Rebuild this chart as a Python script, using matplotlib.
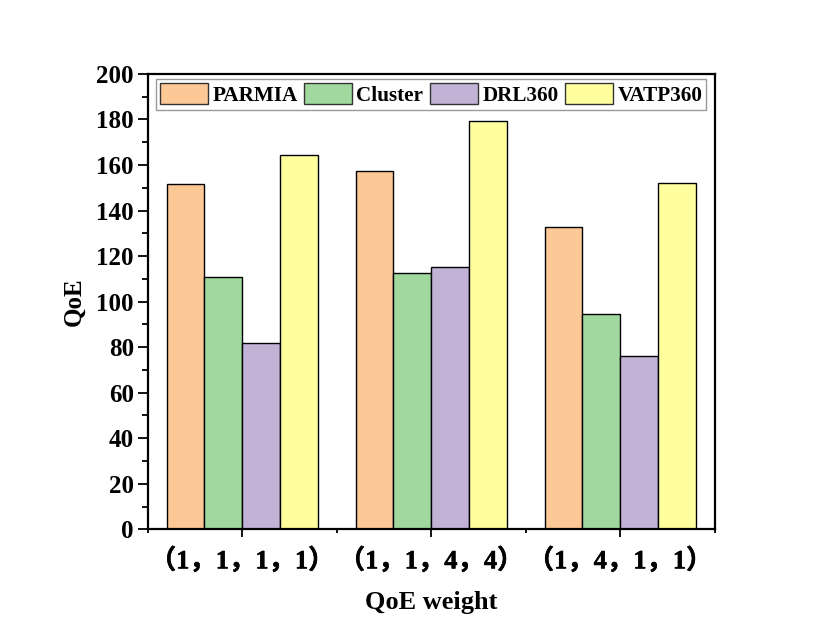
import numpy as np
import matplotlib.pyplot as plt
import matplotlib.patheffects as pe
from matplotlib.ticker import MultipleLocator, FixedLocator

# dados
grupos = ["（1，1，1，1）", "（1，1，4，4）", "（1，4，1，1）"]
metodos = ["PARMIA", "Cluster", "DRL360", "VATP360"]
parmia = [151.6, 157.4, 132.7]
cluster = [111.0, 112.6, 94.5]
drl360 = [81.9, 115.1, 76.2]
vatp360 = [164.6, 179.5, 152.3]
cores = ["#FCC896", "#A0D89E", "#C2B2D6", "#FFFF9E"]

plt.rcParams['font.family'] = ['Liberation Serif', 'Noto Sans CJK SC']
plt.rcParams['font.weight'] = 'bold'

fig = plt.figure(figsize=(8.3, 6.37), dpi=100)
ax = fig.add_axes([0.178, 0.169, 0.683, 0.715])

x = np.arange(1, len(grupos) + 1)
largura = 0.2
series = [parmia, cluster, drl360, vatp360]
for i, (nome, vals) in enumerate(zip(metodos, series)):
    ax.bar(x + (i - 1.5) * largura, vals, largura, color=cores[i],
           edgecolor="#000000", linewidth=1, label=nome, zorder=2)

ax.set_xlim(0.5, 3.5)
ax.set_ylim(0, 200)
ax.yaxis.set_major_locator(MultipleLocator(20))
ax.yaxis.set_minor_locator(MultipleLocator(10))
ax.set_xticks(x)
ax.set_xticklabels(grupos, fontsize=19, fontweight='bold')
ax.xaxis.set_minor_locator(FixedLocator([0.5, 1.5, 2.5, 3.5]))
for lbl in ax.get_xticklabels():
    lbl.set_path_effects([pe.withStroke(linewidth=0.4, foreground="black")])

for lbl in ax.get_yticklabels():
    lbl.set_fontsize(18)
    lbl.set_fontweight('bold')

ax.tick_params(axis='both', which='major', direction='out', length=7, width=1.3, pad=3)
ax.tick_params(axis='both', which='minor', direction='out', length=4, width=1.3)
ax.tick_params(axis='x', which='major', length=6, pad=7)
ax.tick_params(axis='x', which='minor', length=3)

for s in ax.spines.values():
    s.set_linewidth(1.6)

ax.set_ylabel("QoE", fontsize=18, fontweight='bold', labelpad=8)
ax.set_xlabel("QoE weight", fontsize=19, fontweight='bold', labelpad=13)

leg = ax.legend(loc='upper center', ncol=4, frameon=True, fancybox=False,
                edgecolor="#808080", handlelength=2.25, handleheight=1.1,
                handletextpad=0.22, columnspacing=0.32, borderpad=0.2,
                borderaxespad=0.25, prop={'weight': 'bold', 'size': 15.2})
leg.get_frame().set_linewidth(1.0)
for h in leg.legend_handles:
    h.set_edgecolor("#333333")

fig.savefig("out.png", dpi=100)
plt.close(fig)
